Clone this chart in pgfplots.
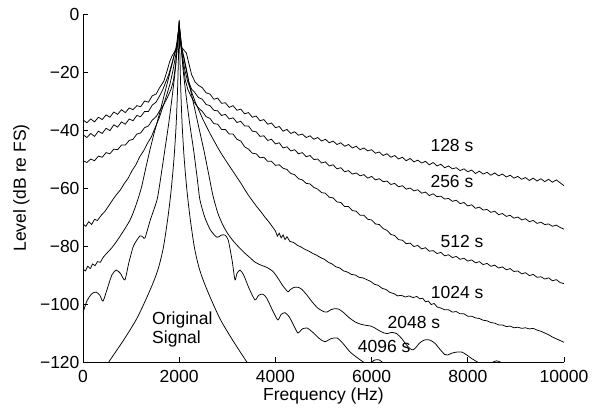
\documentclass[border=0pt]{standalone}
\usepackage{fontspec}
\setmainfont{Liberation Sans}
\usepackage{pgfplots}
\usepackage{pgfplotstable}
\pgfplotsset{compat=1.18}
\newcommand\myfont{\fontsize{17.5}{19.5}\selectfont}

\pgfplotstableread{
x y
0 -36.5
80 -37.5
160 -36.2
240 -37.2
320 -35.6
400 -36.4
480 -34.8
560 -35.6
640 -33.8
720 -34.6
800 -33.0
880 -34.0
960 -32.4
1040 -33.0
1120 -31.6
1200 -32.0
1280 -30.0
1360 -30.4
1440 -28.2
1520 -27.6
1600 -25.2
1680 -23.2
1750 -19.5
1800 -16.5
1850 -14.5
1900 -13.2
1950 -11.5
1985 -6
2000 -2.5
2015 -7
2050 -11.5
2100 -12.5
2150 -13.5
2200 -17
2260 -21
2330 -23.4
2400 -24.6
2480 -25.4
2560 -27.2
2640 -27.6
2720 -29.4
2800 -29.0
2880 -30.8
2960 -30.6
3040 -32.2
3120 -31.6
3200 -33.2
3280 -32.8
3360 -34.4
3440 -34.0
3520 -35.6
3600 -35.2
3680 -36.8
3760 -36.4
3840 -38.0
3920 -37.6
4000 -39.2
4080 -38.8
4160 -40.4
4240 -39.8
4320 -41.2
4400 -40.6
4480 -41.8
4560 -41.4
4640 -42.6
4720 -42.0
4800 -43.2
4880 -42.6
4960 -43.8
5040 -43.2
5120 -44.4
5200 -43.8
5280 -45.0
5360 -44.4
5440 -45.6
5520 -45.0
5600 -46.2
5680 -45.6
5760 -46.8
5840 -46.2
5920 -47.2
6000 -46.8
6080 -48.0
6160 -47.6
6240 -48.8
6320 -48.2
6400 -49.4
6480 -48.8
6560 -50.0
6640 -49.4
6720 -50.6
6800 -49.8
6880 -51.0
6960 -50.4
7040 -51.4
7120 -50.8
7200 -52.0
7280 -51.2
7360 -52.4
7440 -51.8
7520 -53.0
7600 -52.4
7680 -53.4
7760 -53.0
7840 -54.0
7920 -53.4
8000 -54.4
8080 -53.8
8160 -55.0
8240 -54.2
8320 -55.2
8400 -54.6
8480 -55.6
8560 -54.8
8640 -55.8
8720 -55.2
8800 -56.2
8880 -55.6
8960 -56.6
9040 -56.0
9120 -57.0
9200 -56.4
9280 -57.4
9360 -56.6
9440 -57.6
9520 -56.8
9600 -57.8
9680 -57.0
9760 -58.0
9840 -57.2
9920 -58.2
10000 -59.2
}\tabA

\pgfplotstableread{
x y
0 -41.6
80 -42.6
160 -41.2
240 -42.2
320 -40.4
400 -41.2
480 -39.4
560 -40.2
640 -38.2
720 -39.0
800 -37.2
880 -38.0
960 -36.2
1040 -36.8
1120 -35.0
1200 -35.4
1280 -33.6
1360 -33.6
1440 -31.4
1520 -30.4
1600 -28.0
1660 -26.0
1720 -23.5
1780 -21
1840 -17.5
1900 -14
1950 -11.5
1985 -6
2000 -3
2015 -7
2050 -12
2100 -15
2150 -19
2200 -23.5
2260 -26
2320 -27
2400 -28.8
2480 -29.4
2560 -31.2
2640 -31.6
2720 -33.2
2800 -33.4
2880 -35.0
2960 -34.6
3040 -36.2
3120 -35.8
3200 -37.4
3280 -37.0
3360 -38.6
3440 -38.6
3520 -40.4
3600 -40.6
3680 -42.2
3760 -42.0
3840 -43.6
3920 -43.2
4000 -44.8
4080 -44.4
4160 -46.2
4240 -45.8
4320 -47.2
4400 -46.8
4480 -48.2
4560 -47.8
4640 -49.2
4720 -48.8
4800 -50.2
4880 -50.0
4960 -51.4
5040 -51.0
5120 -52.4
5200 -52.0
5280 -53.4
5360 -53.0
5440 -54.4
5520 -54.0
5600 -55.2
5680 -54.8
5760 -55.8
5840 -55.4
5920 -56.6
6000 -56.0
6080 -57.2
6160 -56.8
6240 -57.8
6320 -57.6
6400 -58.8
6480 -58.4
6560 -59.6
6640 -59.2
6720 -60.4
6800 -60.0
6880 -61.0
6960 -60.6
7040 -61.8
7120 -61.4
7200 -62.6
7280 -62.0
7360 -63.0
7440 -62.8
7520 -63.8
7600 -63.6
7680 -64.6
7760 -64.2
7840 -65.4
7920 -65.0
8000 -66.2
8080 -65.8
8160 -67.0
8240 -66.6
8320 -67.6
8400 -67.4
8480 -68.4
8560 -68.0
8640 -69.2
8720 -68.8
8800 -69.8
8880 -69.4
8960 -70.4
9040 -70.0
9120 -71.0
9200 -70.6
9280 -71.6
9360 -71.2
9440 -72.2
9520 -71.8
9600 -72.6
9680 -72.4
9760 -73.2
9840 -72.8
9920 -73.6
10000 -74.2
}\tabB

\pgfplotstableread{
x y
0 -50.6
80 -51.2
160 -50.0
240 -50.6
320 -49.0
400 -49.4
480 -47.8
560 -48.2
640 -46.6
720 -46.8
800 -45.2
880 -45.2
960 -43.6
1040 -43.2
1120 -41.4
1200 -41.0
1280 -39.2
1360 -38.6
1440 -36.6
1520 -35.4
1600 -33.2
1680 -31.2
1760 -28.6
1830 -26
1880 -23
1930 -17
1970 -10
2000 -3.5
2030 -10
2080 -17.5
2130 -23
2180 -26
2240 -28.2
2320 -30.6
2400 -32.4
2480 -33.6
2560 -35.4
2640 -36.0
2720 -37.8
2800 -38.0
2880 -39.8
2960 -39.8
3040 -41.4
3120 -41.4
3200 -43.2
3280 -43.8
3360 -45.8
3440 -46.6
3520 -48.0
3600 -48.2
3680 -49.6
3760 -49.4
3840 -50.8
3920 -50.8
4000 -52.2
4080 -52.0
4160 -53.2
4240 -53.6
4320 -55.0
4400 -55.4
4480 -56.8
4560 -57.2
4640 -58.4
4720 -58.6
4800 -59.8
4880 -60.4
4960 -61.6
5040 -61.8
5120 -63.2
5200 -63.4
5280 -64.8
5360 -65.0
5440 -66.4
5520 -66.4
5600 -67.8
5680 -68.0
5760 -69.4
5840 -69.4
5920 -70.8
6000 -71.0
6080 -72.4
6160 -72.6
6240 -74.0
6320 -74.6
6400 -76.0
6480 -76.4
6560 -77.8
6640 -78.0
6720 -79.2
6800 -79.0
6880 -80.2
6960 -79.8
7040 -81.0
7120 -80.6
7200 -81.8
7280 -81.6
7360 -82.6
7440 -82.2
7520 -83.4
7600 -83.0
7680 -84.0
7760 -83.6
7840 -84.6
7920 -84.2
8000 -85.2
8080 -84.8
8160 -85.8
8240 -85.4
8320 -86.4
8400 -86.0
8480 -87.0
8560 -86.6
8640 -87.6
8720 -87.2
8800 -88.2
8880 -87.8
8960 -88.8
9040 -88.6
9120 -89.6
9200 -89.2
9280 -90.2
9360 -89.8
9440 -90.8
9520 -90.6
9600 -91.4
9680 -91.0
9760 -92.0
9840 -91.6
9920 -92.6
10000 -93.0
}\tabC

\pgfplotstableread{
x y
0 -72.4
60 -73.2
120 -71.6
180 -72.6
240 -70.8
300 -71.2
380 -69.4
460 -68.0
540 -66.0
620 -64.0
700 -62.2
780 -60.6
860 -58.4
940 -56.6
1020 -54.0
1100 -52.0
1180 -49.2
1260 -47.2
1340 -44.6
1420 -42.4
1500 -39.2
1580 -36.0
1660 -32.0
1740 -28.0
1810 -24.0
1870 -19.5
1930 -14
1970 -9
2000 -4
2030 -10
2070 -15
2120 -19.5
2180 -23.5
2260 -27.0
2340 -30.6
2420 -33.6
2500 -36.6
2580 -39.2
2660 -41.8
2740 -44.2
2820 -46.6
2900 -48.8
2980 -50.8
3060 -52.8
3140 -54.8
3220 -56.8
3300 -58.8
3380 -61.0
3460 -63.0
3540 -64.8
3620 -66.6
3700 -68.2
3780 -70.0
3860 -71.6
3940 -73.4
4000 -74.8
4040 -76.6
4080 -75.6
4120 -77.2
4160 -76.2
4200 -77.8
4240 -76.8
4300 -78.4
4380 -78.8
4460 -79.8
4540 -80.4
4620 -81.2
4700 -81.8
4780 -82.6
4860 -83.2
4940 -84.0
5020 -84.6
5100 -85.6
5180 -86.2
5260 -87.2
5340 -87.6
5420 -88.6
5500 -89.0
5580 -89.8
5660 -90.0
5740 -90.8
5820 -91.0
5900 -91.6
5980 -92.2
6060 -93.2
6140 -93.6
6220 -94.6
6300 -95.0
6380 -96.0
6460 -96.4
6540 -97.2
6620 -97.0
6700 -97.6
6780 -97.2
6860 -97.8
6940 -97.4
7000 -98.2
7060 -98.0
7120 -99.2
7180 -99.0
7240 -100.2
7300 -99.8
7360 -101.0
7440 -101.4
7520 -102.0
7600 -102.0
7680 -102.8
7760 -102.6
7840 -103.4
7920 -103.4
8000 -104.2
8080 -104.2
8160 -104.8
8240 -105.0
8320 -105.6
8400 -105.8
8480 -106.4
8560 -106.6
8640 -107.2
8720 -107.2
8800 -107.8
8880 -107.6
8960 -108.2
9040 -108.0
9120 -108.4
9200 -108.2
9280 -108.6
9360 -108.4
9440 -109.0
9520 -109.4
9600 -110.0
9680 -110.6
9760 -111.4
9840 -112.0
9920 -112.6
10000 -113.2
}\tabD

\pgfplotstableread{
x y
0 -87.8
50 -88.6
100 -87.0
150 -87.8
200 -86.2
250 -86.8
300 -85.4
360 -85.6
415 -84.0
500 -82.4
600 -80.6
690 -78.6
780 -76.4
880 -73.8
980 -71.0
1060 -67.8
1140 -64.0
1220 -59.5
1300 -53.5
1390 -47.0
1480 -41.0
1580 -35.0
1680 -28.5
1780 -22.0
1870 -16.0
1940 -11
2000 -5
2060 -12
2130 -18
2220 -25
2320 -32.5
2420 -40
2520 -47.5
2610 -55
2700 -62.5
2800 -68.5
2900 -72.5
3000 -75.5
3120 -78.2
3240 -80.4
3360 -82.4
3470 -84.0
3580 -85.6
3700 -86.6
3825 -87.4
3950 -88.8
4050 -91.0
4150 -93.6
4260 -95.8
4300 -95.2
4380 -94.3
4460 -94.2
4540 -94.8
4640 -96.6
4760 -99.2
4880 -101.4
5000 -102.6
5070 -102.8
5150 -102.0
5240 -101.6
5320 -101.8
5420 -103.0
5540 -104.8
5660 -106.2
5780 -107.0
5900 -107.4
5980 -107.6
6060 -108.2
6160 -109.2
6260 -110.0
6330 -110.2
6420 -109.8
6520 -110.2
6620 -111.8
6720 -114.0
6800 -115.4
6860 -115.8
6920 -115.0
7000 -113.4
7100 -112.4
7210 -112.4
7320 -113.6
7420 -115.6
7520 -117.4
7580 -117.6
7660 -117.0
7760 -116.6
7880 -116.6
7980 -117.6
8080 -118.8
8180 -119.8
8280 -120.8
8400 -121.2
8500 -120.2
8600 -119.6
8700 -120.2
8800 -121.2
8950 -122.5
}\tabE

\pgfplotstableread{
x y
0 -103.0
80 -99.0
180 -96.5
270 -95.9
350 -97.0
415 -99.0
500 -95.0
600 -90.0
690 -88.3
780 -89.5
870 -91.7
950 -86.0
1050 -80.0
1185 -76.5
1250 -77.0
1290 -77.2
1400 -71.0
1540 -64.0
1620 -56.0
1700 -47.0
1780 -38.0
1850 -29.0
1920 -19.0
2000 -4.0
2080 -19.0
2150 -29.0
2220 -38.0
2300 -47.0
2370 -56.0
2430 -64.0
2530 -70.0
2650 -74.5
2785 -77.0
2870 -76.3
2950 -76.2
3020 -78.0
3100 -85.0
3160 -91.7
3200 -89.5
3265 -88.3
3340 -90.0
3450 -94.5
3575 -98.6
3650 -97.0
3740 -96.6
3820 -98.0
3950 -102.5
4050 -105.5
4120 -103.6
4200 -103.0
4290 -104.5
4400 -108.0
4470 -110.0
4560 -108.6
4660 -108.3
4780 -109.8
4920 -112.0
5030 -113.0
5150 -112.0
5280 -111.7
5400 -113.5
5550 -116.5
5700 -118.5
5850 -120.2
5970 -120.6
6050 -119.4
6150 -119.2
6250 -120.4
6400 -122.0
}\tabF

\pgfplotstableread{
x y
440 -122.5
535 -120
700 -116
900 -111
1135 -104.5
1400 -95
1555 -88.3
1665 -81
1750 -72
1815 -63.5
1860 -56
1900 -48
1940 -37
1970 -24
1988 -12
2000 -2
2012 -12
2029 -24
2058 -37
2096 -48
2134 -56
2178 -63.5
2240 -72
2322 -81
2427 -88.3
2576 -95
2830 -104.5
3056 -111
3248 -116
3406 -120
3498 -122.5
}\tabO

\begin{document}
\begin{tikzpicture}[font=\myfont]
\begin{axis}[
  scale only axis, width=481pt, height=348pt,
  xmin=0, xmax=10000, ymin=-120, ymax=0,
  axis x line=bottom, axis y line=left,
  axis line style={-, line width=0.8pt, black},
  tick align=inside, major tick length=5pt,
  tick style={line width=0.8pt, black},
  scaled x ticks=false,
  xtick={0,2000,4000,6000,8000,10000},
  xticklabels={0,2000,4000,6000,8000,10000},
  ytick={-120,-100,-80,-60,-40,-20,0},
  yticklabels={−120,−100,−80,−60,−40,−20,0},
  tick label style={font=\myfont},
  xticklabel style={yshift=-5pt},
  label style={font=\myfont},
  xlabel={Frequency (Hz)},
  ylabel={Level (dB re FS)},
  xlabel style={at={(axis description cs:0.5,-0.0977)}, anchor=center},
  ylabel style={at={(axis description cs:-0.128,0.5)}, anchor=center},
  cv/.style={black, line width=0.75pt, mark=none},
  clip=true,
]
\addplot[cv] table {\tabA};
\addplot[cv] table {\tabB};
\addplot[cv] table {\tabC};
\addplot[cv] table {\tabD};
\addplot[cv, smooth, tension=0.4] table {\tabE};
\addplot[cv, smooth, tension=0.4] table {\tabF};
\addplot[cv, smooth, tension=0.5] table {\tabO};
\node[font=\myfont, inner sep=0pt] at (axis cs:7670,-45.5) {128 s};
\node[font=\myfont, inner sep=0pt] at (axis cs:7670,-57.8) {256 s};
\node[font=\myfont, inner sep=0pt] at (axis cs:7880,-78.6) {512 s};
\node[font=\myfont, inner sep=0pt] at (axis cs:7780,-95.9) {1024 s};
\node[font=\myfont, inner sep=0pt] at (axis cs:6880,-106.4) {2048 s};
\node[font=\myfont, inner sep=0pt] at (axis cs:6260,-114.6) {4096 s};
\node[font=\myfont, inner sep=0pt, anchor=west, align=left] at (axis cs:1435,-108.8) {Original\\Signal};
\end{axis}
\pgfresetboundingbox
\path (-83pt,-46pt) rectangle (515pt,362pt);
\end{tikzpicture}
\end{document}
